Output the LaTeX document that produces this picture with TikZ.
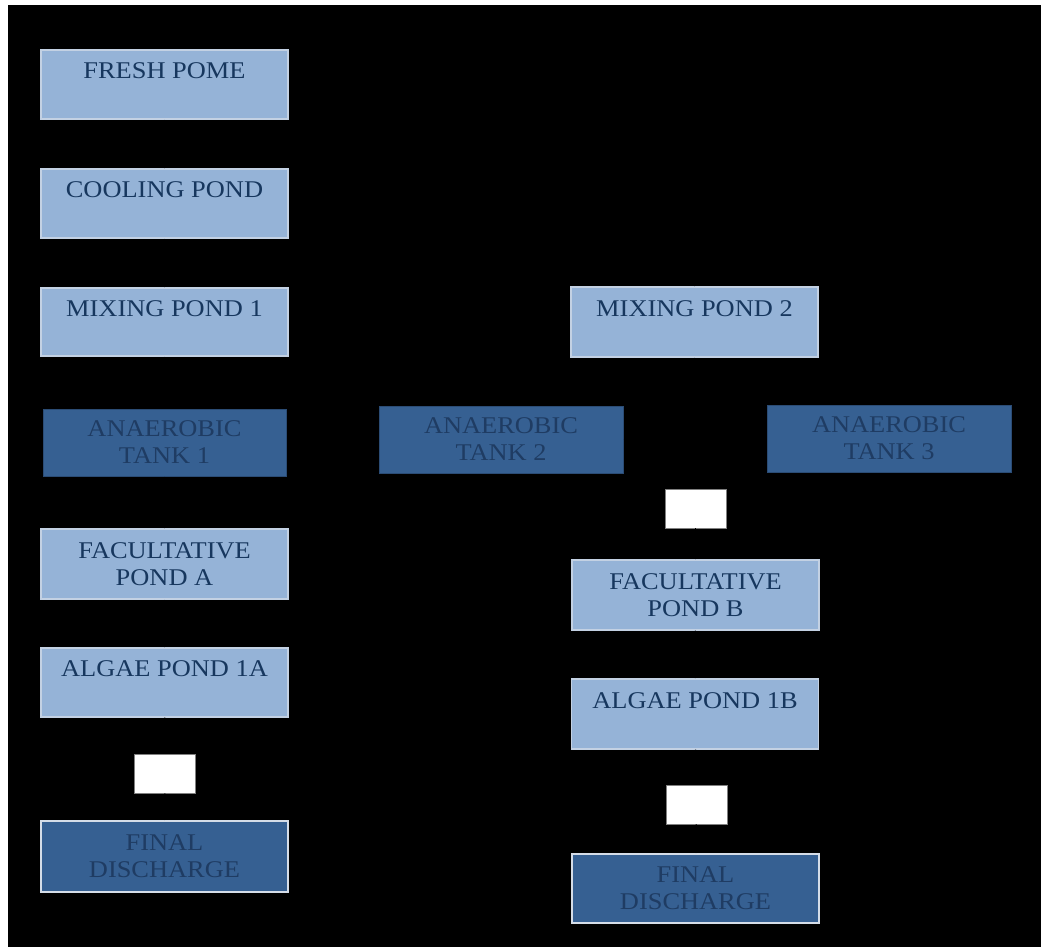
\documentclass[tikz,border=0pt]{standalone}
\usepackage{fontspec}
\setmainfont[FakeStretch=1.1]{Liberation Serif}
\usetikzlibrary{arrows.meta}
\definecolor{pondfill}{HTML}{95B3D7}
\definecolor{pondline}{HTML}{C3D1E3}
\definecolor{tankfill}{HTML}{366092}
\definecolor{tankline}{HTML}{2B4C75}
\definecolor{pondtext}{HTML}{17375E}
\definecolor{tanktext}{HTML}{1F3C63}
\definecolor{finalline}{HTML}{D5DDE8}
\tikzset{
  box/.style={rectangle, inner sep=0pt, minimum width=247pt, align=center,
    font=\fontsize{24}{27}\selectfont},
  pond/.style={box, fill=pondfill, draw=pondline, line width=1.2pt, text=pondtext},
  tank/.style={box, fill=tankfill, draw=tankline, line width=1pt, text=tanktext, minimum width=244pt},
  final/.style={box, fill=tankfill, draw=finalline, line width=1.6pt, text=tanktext},
  tag/.style={rectangle, inner sep=0pt, fill=white, draw=gray, line width=0.8pt,
    minimum width=61pt, minimum height=39pt},
  flow/.style={draw=black, line width=1.2pt, -{Stealth[length=5pt,width=5pt]}},
}
\begin{document}
\begin{tikzpicture}[x=1pt, y=-1pt]
  % canvas and dark panel
  \fill[white] (0,0) rectangle (1041,947);
  \fill[black] (8,5) rectangle (1041,947);
  \useasboundingbox (0,0) rectangle (1041,947);

  % left treatment line
  \node[pond, minimum height=69pt] (fresh) at (164.5,84.5) {FRESH POME\\\mbox{}};
  \node[pond, minimum height=69pt] (cool) at (164.5,203.5) {COOLING POND\\\mbox{}};
  \node[pond, minimum height=68pt] (mixa) at (164.5,322) {MIXING POND 1\\\mbox{}};
  \node[tank, minimum width=243pt, minimum height=67pt] (tanka) at (164.5,442.5) {ANAEROBIC\\TANK 1};
  \node[pond, minimum height=70pt] (faca) at (164.5,564) {FACULTATIVE\\POND A};
  \node[pond, minimum height=69pt] (alga) at (164.5,682.5) {ALGAE POND 1A\\\mbox{}};
  \node[tag] (taga) at (165,773.5) {};
  \node[final, minimum height=71pt] (fina) at (164.5,856.5) {FINAL\\DISCHARGE};

  % right treatment line
  \node[pond, minimum height=70pt] (mixb) at (694.5,322) {MIXING POND 2\\\mbox{}};
  \node[tank, minimum height=67pt] (tankb) at (501,439.5) {ANAEROBIC\\TANK 2};
  \node[tank, minimum height=67pt] (tankc) at (889,438.5) {ANAEROBIC\\TANK 3};
  \node[tag] (tagb) at (695.5,508.5) {};
  \node[pond, minimum height=70pt] (facb) at (695.5,595) {FACULTATIVE\\POND B};
  \node[pond, minimum height=70pt] (algb) at (695,714) {ALGAE POND 1B\\\mbox{}};
  \node[tag] (tagc) at (696.5,804.5) {};
  \node[final, minimum height=69pt] (finb) at (695.5,888.5) {FINAL\\DISCHARGE};

  % branch point feeding the second line
  \coordinate (split) at (164.5,263);

  % flow connectors
  \draw[flow] (fresh) -- (cool);
  \draw[flow] (cool) -- (mixa);
  \draw[flow] (mixa) -- (tanka);
  \draw[flow] (tanka) -- (faca);
  \draw[flow] (faca) -- (alga);
  \draw[flow] (alga) -- (taga);
  \draw[flow] (taga) -- (fina);
  \draw[flow] (split) -| (mixb.north);
  \draw[flow] (mixb.south) |- ++(0,24) -| (tankb.north);
  \draw[flow] (mixb.south) |- ++(0,24) -| (tankc.north);
  \draw[flow] (tankb.east) -| (tagb.north);
  \draw[flow] (tankc.west) -| (tagb.north);
  \draw[flow] (tagb) -- (facb);
  \draw[flow] (facb) -- (algb);
  \draw[flow] (algb) -- (tagc);
  \draw[flow] (tagc) -- (finb);
\end{tikzpicture}
\end{document}
